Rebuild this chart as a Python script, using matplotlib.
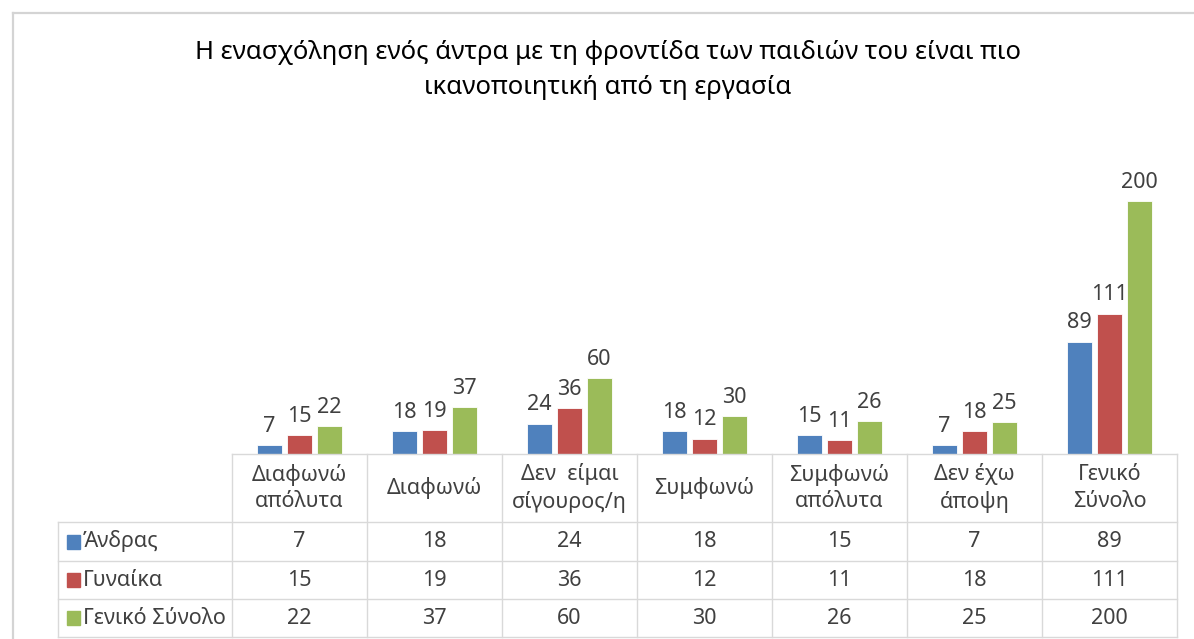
import matplotlib.pyplot as plt
import numpy as np
from matplotlib.lines import Line2D
from matplotlib.patches import Rectangle

# --- data ---
CATEGORIES = ["Διαφωνώ\nαπόλυτα", "Διαφωνώ", "Δεν  είμαι\nσίγουρος/η", "Συμφωνώ",
              "Συμφωνώ\nαπόλυτα", "Δεν έχω\nάποψη", "Γενικό\nΣύνολο"]
SERIES_NAMES = ["Άνδρας", "Γυναίκα", "Γενικό Σύνολο"]
ANDRAS = [7, 18, 24, 18, 15, 7, 89]
GYNAIKA = [15, 19, 36, 12, 11, 18, 111]
SYNOLO = [22, 37, 60, 30, 26, 25, 200]
TITLE = "Η ενασχόληση ενός άντρα με τη φροντίδα των παιδιών του είναι πιο\nικανοποιητική από τη εργασία"

COLORS = ["#4F81BD", "#C0504D", "#9BBB59"]
TEXT_COLOR = "#404040"
GRID_COLOR = "#d9d9d9"

plt.rcParams['font.family'] = ['Noto Sans', 'DejaVu Sans']

W, H = 1194, 639
fig = plt.figure(figsize=(W / 100, H / 100), dpi=100)

def fx(x): return x / W
def fy(y): return 1 - y / H

def hline(x0, x1, y, color=GRID_COLOR, lw=1.0):
    fig.add_artist(Line2D([fx(x0), fx(x1)], [fy(y), fy(y)], transform=fig.transFigure, color=color, lw=lw))

def vline(x, y0, y1, color=GRID_COLOR, lw=1.0):
    fig.add_artist(Line2D([fx(x), fx(x)], [fy(y0), fy(y1)], transform=fig.transFigure, color=color, lw=lw))

# chart border (only left/top visible in crop)
hline(13, W, 13, color="#d4d4d4", lw=1.6)
vline(13, 13, H, color="#d4d4d4", lw=1.6)

# plot area
left, right, base, top = 232, 1177, 454, 138
ax = fig.add_axes([fx(left), fy(base), fx(right) - fx(left), (base - top) / H])
x = np.arange(len(CATEGORIES))
offsets = [-0.222, 0.0, 0.222]
for vals, col, off in zip([ANDRAS, GYNAIKA, SYNOLO], COLORS, offsets):
    bars = ax.bar(x + off, vals, width=0.18, color=col, edgecolor="white", linewidth=0.6)
    for b, v in zip(bars, vals):
        ax.annotate(str(v), (b.get_x() + b.get_width() / 2, v), xytext=(0, 6),
                    textcoords="offset points", ha="center", va="bottom",
                    fontsize=15.5, color=TEXT_COLOR)
ax.set_xlim(-0.5, len(CATEGORIES) - 0.5)
ax.set_ylim(0, 250)
ax.axis("off")

# title
fig.text(fx(608), fy(70), TITLE, ha="center", va="center", fontsize=18.5,
         color="#000000", linespacing=1.5)

# data table
ncol = len(CATEGORIES)
colw = (right - left) / ncol
row_y = [454, 522, 561, 599, 637]
tab_left = 58

hline(left, right, row_y[0])
for y in row_y[1:]:
    hline(tab_left, right, y)
for i in range(ncol + 1):
    vline(left + i * colw, row_y[0], row_y[-1])
vline(tab_left, row_y[1], row_y[-1])

for i, cat in enumerate(CATEGORIES):
    fig.text(fx(left + (i + 0.5) * colw), fy((row_y[0] + row_y[1]) / 2), cat,
             ha="center", va="center", fontsize=15.5, color=TEXT_COLOR, linespacing=1.35)

for r, (name, vals, col) in enumerate(zip(SERIES_NAMES, [ANDRAS, GYNAIKA, SYNOLO], COLORS)):
    yc = (row_y[r + 1] + row_y[r + 2]) / 2
    fig.add_artist(Rectangle((fx(67), fy(yc + 7)), 13 / W, 14 / H,
                             transform=fig.transFigure, color=col))
    fig.text(fx(83), fy(yc), name, ha="left", va="center", fontsize=15.5, color=TEXT_COLOR)
    for i, v in enumerate(vals):
        fig.text(fx(left + (i + 0.5) * colw), fy(yc), str(v), ha="center", va="center",
                 fontsize=15.5, color=TEXT_COLOR)

fig.savefig("out.png", dpi=100)
